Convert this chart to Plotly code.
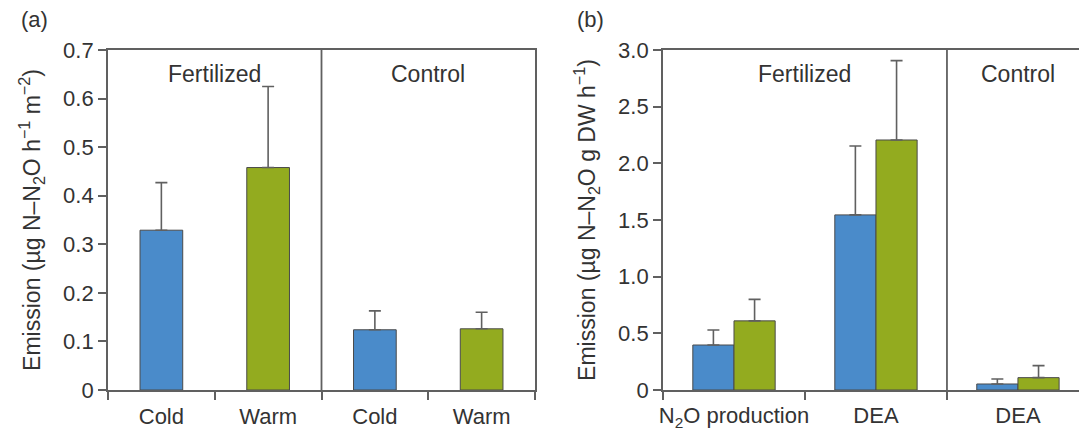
import plotly.graph_objects as go

# ---------------- data ----------------
# Panel (a): field emission
a_labels = ["Cold", "Warm", "Cold", "Warm"]
a_values = [0.329, 0.458, 0.124, 0.126]
a_errors = [0.098, 0.167, 0.039, 0.034]
a_temps = ["Cold", "Warm", "Cold", "Warm"]
a_groups = ["Fertilized", "Control"]

# Panel (b): lab N2O production / DEA
b_labels = ["N<sub>2</sub>O production", "DEA", "DEA"]
b_cold = [0.397, 1.545, 0.053]
b_cold_err = [0.133, 0.608, 0.044]
b_warm = [0.610, 2.206, 0.109]
b_warm_err = [0.190, 0.700, 0.106]
b_groups = ["Fertilized", "Control"]

a_yticks = [0, 0.1, 0.2, 0.3, 0.4, 0.5, 0.6, 0.7]
a_yticktext = ["0", "0.1", "0.2", "0.3", "0.4", "0.5", "0.6", "0.7"]
b_yticks = [0, 0.5, 1.0, 1.5, 2.0, 2.5, 3.0]
b_yticktext = ["0", "0.5", "1.0", "1.5", "2.0", "2.5", "3.0"]

# ---------------- style ----------------
BLUE = "#4a8bca"
GREEN = "#93ab1f"
temp_color = {"Cold": BLUE, "Warm": GREEN}
AX = "#606060"
TXT = "#333333"
OUT = "#4a4a4a"
FONT = "Liberation Sans, Arial, sans-serif"
W, H = 1079, 432
TICKFS = 22
LABFS = 23
TITLEFS = 23

def px_x(p):
    return p / W

def px_y(p):
    return 1 - p / H

fig = go.Figure()

a_x = list(range(len(a_values)))
fig.add_trace(go.Bar(
    x=a_x, y=a_values, width=0.4, offset=-0.2,
    marker=dict(color=[temp_color[t] for t in a_temps],
                line=dict(color=OUT, width=1)),
    error_y=dict(type="data", array=a_errors, arrayminus=[0] * len(a_errors),
                 symmetric=False, color=AX, thickness=1.6, width=6),
    xaxis="x", yaxis="y", showlegend=False, name="Field",
))

b_x = list(range(len(b_cold)))
fig.add_trace(go.Bar(
    x=b_x, y=b_cold, width=0.29, offset=-0.29, name="Cold",
    marker=dict(color=BLUE, line=dict(color=OUT, width=1)),
    error_y=dict(type="data", array=b_cold_err, arrayminus=[0] * len(b_cold_err),
                 symmetric=False, color=AX, thickness=1.6, width=6),
    xaxis="x2", yaxis="y2", showlegend=False,
))
fig.add_trace(go.Bar(
    x=b_x, y=b_warm, width=0.29, offset=0.0, name="Warm",
    marker=dict(color=GREEN, line=dict(color=OUT, width=1)),
    error_y=dict(type="data", array=b_warm_err, arrayminus=[0] * len(b_warm_err),
                 symmetric=False, color=AX, thickness=1.6, width=6),
    xaxis="x2", yaxis="y2", showlegend=False,
))

ydom = [px_y(390), px_y(50)]
common_ax = dict(showline=True, linecolor=AX, linewidth=1.8, showgrid=False,
                 zeroline=False, automargin=False,
                 tickfont=dict(family=FONT, size=TICKFS, color=TXT))
minor_ticks = dict(tickmode="linear", tick0=-0.5, dtick=1, ticks="outside",
                   ticklen=8, tickcolor=AX, tickwidth=1.6)

fig.update_layout(
    width=W, height=H,
    margin=dict(l=0, r=0, t=0, b=0),
    paper_bgcolor="white", plot_bgcolor="white",
    barmode="overlay",
    font=dict(family=FONT, color=TXT),
    xaxis=dict(domain=[px_x(108), px_x(535)], range=[-0.5, 3.5],
               tickvals=a_x, ticktext=a_labels, ticks="", mirror=True,
               ticklabelstandoff=6,
               minor=minor_ticks, anchor="y", **common_ax),
    yaxis=dict(domain=ydom, range=[0, 0.7], tickvals=a_yticks, ticktext=a_yticktext,
               ticks="outside", ticklen=8, tickcolor=AX, tickwidth=1.6, mirror=True,
               anchor="x",
               title=dict(text="Emission (µg N–N<sub>2</sub>O h<sup>−1</sup> m<sup>−2</sup>)",
                          font=dict(family=FONT, size=TITLEFS, color=TXT), standoff=16),
               **common_ax),
    xaxis2=dict(domain=[px_x(663), 1.0], range=[-0.5, 2.43],
                tickvals=b_x, ticktext=b_labels, ticks="", mirror=True,
                ticklabelstandoff=5,
                minor=minor_ticks, anchor="y2", **common_ax),
    yaxis2=dict(domain=ydom, range=[0, 3.0], tickvals=b_yticks, ticktext=b_yticktext,
                ticks="outside", ticklen=8, tickcolor=AX, tickwidth=1.6,
                anchor="x2",
                title=dict(text="Emission (µg N–N<sub>2</sub>O g DW h<sup>−1</sup>)",
                           font=dict(family=FONT, size=TITLEFS, color=TXT), standoff=16),
                **common_ax),
)

# dividers between Fertilized / Control
fig.add_shape(type="line", xref="x", yref="y domain", x0=1.5, x1=1.5, y0=0, y1=1,
              line=dict(color=AX, width=1.8))
fig.add_shape(type="line", xref="x2", yref="y2 domain", x0=1.5, x1=1.5, y0=0, y1=1,
              line=dict(color=AX, width=1.8))

# group labels
for txt, xc in zip(a_groups, [0.5, 2.5]):
    fig.add_annotation(text=txt, x=xc, xref="x", y=0.93, yref="y domain",
                       xanchor="center", yanchor="middle",
                       showarrow=False, font=dict(family=FONT, size=LABFS, color=TXT))
for txt, xc in zip(b_groups, [0.5, 2.0]):
    fig.add_annotation(text=txt, x=xc, xref="x2", y=0.93, yref="y2 domain",
                       xanchor="center", yanchor="middle",
                       showarrow=False, font=dict(family=FONT, size=LABFS, color=TXT))

# panel letters
fig.add_annotation(text="(a)", x=px_x(19), y=px_y(19), xref="paper", yref="paper",
                   xanchor="left", yanchor="middle", showarrow=False,
                   font=dict(family=FONT, size=22, color=TXT))
fig.add_annotation(text="(b)", x=px_x(575), y=px_y(19), xref="paper", yref="paper",
                   xanchor="left", yanchor="middle", showarrow=False,
                   font=dict(family=FONT, size=22, color=TXT))

fig.write_html("out.html", config={"displayModeBar": False},
               post_script="document.body.style.margin='0';")
